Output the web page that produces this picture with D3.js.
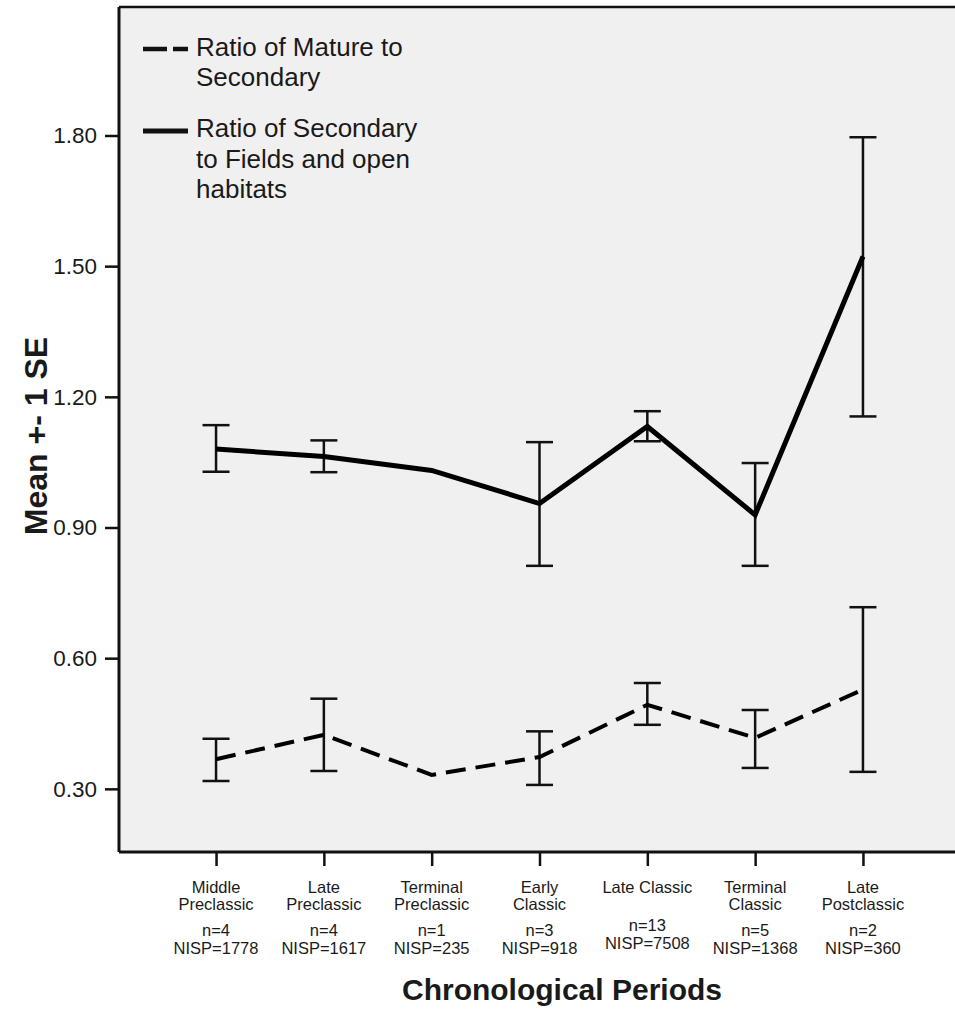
<!DOCTYPE html>
<html>
<head>
<meta charset="utf-8">
<script src="https://cdn.jsdelivr.net/npm/d3@7"></script>
<style>
  body { margin: 0; background: #fff; }
  text { font-family: "Liberation Sans", Arial, sans-serif; fill: #1a1a1a; }
</style>
</head>
<body>
<div id="chart"></div>
<script>
// Data

const periods = ["Middle Preclassic", "Late Preclassic", "Terminal Preclassic", "Early Classic",
                 "Late Classic", "Terminal Classic", "Late Postclassic"];
const periodLines = [["Middle", "Preclassic"], ["Late", "Preclassic"], ["Terminal", "Preclassic"],
                     ["Early", "Classic"], ["Late Classic"], ["Terminal", "Classic"], ["Late", "Postclassic"]];
const nLabels = ["n=4", "n=4", "n=1", "n=3", "n=13", "n=5", "n=2"];
const nispLabels = ["NISP=1778", "NISP=1617", "NISP=235", "NISP=918", "NISP=7508", "NISP=1368", "NISP=360"];

// Ratio of Secondary to Fields and open habitats (solid)
const secMean  = [1.080, 1.063, 1.031, 0.955, 1.132, 0.929, 1.522];
const secUpper = [1.135, 1.100, null, 1.096, 1.167, 1.048, 1.796];
const secLower = [1.028, 1.027, null, 0.812, 1.098, 0.812, 1.155];

// Ratio of Mature to Secondary (dashed)
const matMean  = [0.368, 0.424, 0.332, 0.373, 0.493, 0.417, 0.528];
const matUpper = [0.415, 0.507, null, 0.432, 0.543, 0.481, 0.717];
const matLower = [0.318, 0.341, null, 0.309, 0.447, 0.348, 0.339];

const yTicks = [0.30, 0.60, 0.90, 1.20, 1.50, 1.80];

// Dimensions

const W = 955, H = 1009;
const margin = { top: 7, right: -5, bottom: 157, left: 119 };
const width = W - margin.left - margin.right;
const height = H - margin.top - margin.bottom;

const svg = d3.select("#chart")
    .append("svg")
        .attr("width", W)
        .attr("height", H);

const g = svg.append("g")
    .attr("transform", `translate(${margin.left},${margin.top})`);

// Scales

const x = d3.scalePoint()
    .domain(periods)
    .range([0, width])
    .padding(0.9);

const y = d3.scaleLinear()
    .domain([0.155, 2.095])
    .range([height, 0]);

// plot background + frame

g.append("rect")
    .attr("width", width)
    .attr("height", height)
    .attr("fill", "#f0f0f0");

g.append("line")
    .attr("x1", 0).attr("x2", width)
    .attr("y1", 0).attr("y2", 0)
    .attr("stroke", "#111").attr("stroke-width", 2.5);

// y axis

const yAxis = g.append("g")
    .call(d3.axisLeft(y).tickValues(yTicks).tickFormat(d3.format(".2f")).tickSize(14).tickPadding(8));
yAxis.select(".domain").remove();
yAxis.selectAll(".tick line").attr("stroke", "#111").attr("stroke-width", 2.5);
yAxis.selectAll(".tick text").attr("font-size", 22.5).attr("font-family", "Liberation Sans, Arial, sans-serif").attr("fill", "#1a1a1a");

g.append("line")
    .attr("x1", 0).attr("x2", 0)
    .attr("y1", 0).attr("y2", height)
    .attr("stroke", "#111").attr("stroke-width", 3);

// x axis

const xAxis = g.append("g")
    .attr("transform", `translate(0,${height})`)
    .call(d3.axisBottom(x).tickSize(14).tickFormat(""));
xAxis.select(".domain").remove();
xAxis.selectAll(".tick line").attr("stroke", "#111").attr("stroke-width", 2.5);

g.append("line")
    .attr("x1", 0).attr("x2", width)
    .attr("y1", height).attr("y2", height)
    .attr("stroke", "#111").attr("stroke-width", 3);

// category labels
const catG = g.selectAll(".cat")
    .data(periods)
    .join("text")
    .attr("class", "cat")
    .attr("text-anchor", "middle")
    .attr("font-size", 16.5);

catG.each(function (d, i) {
    const t = d3.select(this);
    periodLines[i].forEach((ln, j) => {
        t.append("tspan").attr("x", x(d)).attr("y", height + 41 + j * 17).text(ln);
    });
    const off = periodLines[i].length === 1 ? -5 : 0;
    t.append("tspan").attr("x", x(d)).attr("y", height + 84 + off).text(nLabels[i]);
    t.append("tspan").attr("x", x(d)).attr("y", height + 102 + off).text(nispLabels[i]);
});

// axis titles

svg.append("text")
    .attr("x", 562)
    .attr("y", 1000)
    .attr("text-anchor", "middle")
    .attr("font-size", 30)
    .attr("font-weight", "bold")
    .text("Chronological Periods");

svg.append("text")
    .attr("transform", `translate(47,${margin.top + y(1.11)}) rotate(-90)`)
    .attr("text-anchor", "middle")
    .attr("font-size", 32)
    .attr("font-weight", "bold")
    .text("Mean +- 1 SE");

// error bars + lines

function drawSeries(mean, upper, lower, dash, lw) {
    const pts = periods.map((p, i) => ({ p, m: mean[i], u: upper[i], l: lower[i] }));
    const bars = pts.filter(d => d.u !== null);

    g.selectAll(null).data(bars).join("line")
        .attr("x1", d => x(d.p)).attr("x2", d => x(d.p))
        .attr("y1", d => y(d.u)).attr("y2", d => y(d.l))
        .attr("stroke", "#111").attr("stroke-width", 2.5);

    [ "u", "l" ].forEach(k => {
        g.selectAll(null).data(bars).join("line")
            .attr("x1", d => x(d.p) - 13.5).attr("x2", d => x(d.p) + 13.5)
            .attr("y1", d => y(d[k])).attr("y2", d => y(d[k]))
            .attr("stroke", "#111").attr("stroke-width", 2.5);
    });

    const line = d3.line()
        .x(d => x(d.p))
        .y(d => y(d.m));

    g.append("path")
        .datum(pts)
        .attr("fill", "none")
        .attr("stroke", "#000")
        .attr("stroke-width", lw)
        .attr("stroke-dasharray", dash)
        .attr("d", line);
}

drawSeries(matMean, matUpper, matLower, "20,10", 4);
drawSeries(secMean, secUpper, secLower, null, 5);

// legend

const legend = svg.append("g");

legend.append("line")
    .attr("x1", 143).attr("x2", 188).attr("y1", 49).attr("y2", 49)
    .attr("stroke", "#111").attr("stroke-width", 4.5)
    .attr("stroke-dasharray", "24,6");

legend.append("line")
    .attr("x1", 143).attr("x2", 188).attr("y1", 131).attr("y2", 131)
    .attr("stroke", "#111").attr("stroke-width", 5);

const legendText = [
    ["Ratio of Mature to", 56], ["Secondary", 86],
    ["Ratio of Secondary", 137], ["to Fields and open", 168], ["habitats", 198]
];

legend.selectAll(".lt")
    .data(legendText)
    .join("text")
    .attr("x", 196)
    .attr("y", d => d[1])
    .attr("font-size", 26)
    .attr("fill", "#222")
    .text(d => d[0]);
</script>
</body>
</html>
